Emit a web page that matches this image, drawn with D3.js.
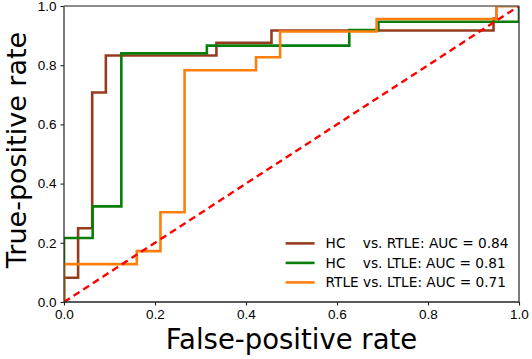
<!DOCTYPE html>
<html lang="en">
<head>
  <meta charset="UTF-8">
  <title>ROC curves</title>
  <script src="https://d3js.org/d3.v7.min.js"></script>
  <style>
    body { margin: 0; background: #fff; }
    svg { display: block; font-family: "DejaVu Sans", sans-serif; }
    .tick text { font-size: 13.5px; fill: #000; }
    .legend text { font-size: 13.7px; fill: #000; white-space: pre; }
    .axis-label { font-size: 27.5px; fill: #000; text-anchor: middle; }
    .y-label { font-size: 27px; }
  </style>
</head>
<body>
  <div id="chart"></div>

  <script>
    // ROC points (false-positive rate, true-positive rate)
    const seriesNames = ["HC    vs. RTLE: AUC = 0.84", "HC    vs. LTLE: AUC = 0.81", "RTLE vs. LTLE: AUC = 0.71"];
    const seriesColors = ["#963c1e", "#0b7d0b", "#ff7f0e"];

    const fprHcRtle = [0, 0, 0.031, 0.031, 0.062, 0.062, 0.092, 0.092, 0.335, 0.335, 0.456, 0.456, 0.944, 0.944, 0.951, 0.951, 1];
    const tprHcRtle = [0, 0.082, 0.082, 0.249, 0.249, 0.708, 0.708, 0.833, 0.833, 0.876, 0.876, 0.917, 0.917, 0.958, 0.958, 1, 1];

    const fprHcLtle = [0, 0, 0.063, 0.063, 0.126, 0.126, 0.314, 0.314, 0.627, 0.627, 0.691, 0.691, 1, 1];
    const tprHcLtle = [0, 0.216, 0.216, 0.323, 0.323, 0.840, 0.840, 0.866, 0.866, 0.919, 0.919, 0.947, 0.947, 1];

    const fprRtleLtle = [0, 0, 0.160, 0.160, 0.212, 0.212, 0.265, 0.265, 0.422, 0.422, 0.475, 0.475, 0.687, 0.687, 0.951, 0.951, 1];
    const tprRtleLtle = [0, 0.128, 0.128, 0.172, 0.172, 0.303, 0.303, 0.783, 0.783, 0.827, 0.827, 0.914, 0.914, 0.956, 0.956, 1, 1];

    const chanceLine = [0, 1];
    const ticks = [0, 0.2, 0.4, 0.6, 0.8, 1.0];

    const margin = { top: 6, right: 13, bottom: 57, left: 64 },
          width = 532 - margin.left - margin.right,
          height = 359 - margin.top - margin.bottom;

    const svg = d3.select("#chart")
                  .append("svg")
                  .attr("width", 532)
                  .attr("height", 359);

    const g = svg.append("g")
                 .attr("transform", `translate(${margin.left},${margin.top})`);

    const x = d3.scaleLinear().domain([0, 1]).range([0, width]);
    const y = d3.scaleLinear().domain([0, 1]).range([height, 0]);

    // clip curves to the axes box
    svg.append("defs").append("clipPath").attr("id", "plot-clip")
       .append("rect").attr("x", 0).attr("y", 0).attr("width", width).attr("height", height);

    const curves = [
      d3.zip(fprHcRtle, tprHcRtle),
      d3.zip(fprHcLtle, tprHcLtle),
      d3.zip(fprRtleLtle, tprRtleLtle)
    ];

    const line = d3.line().x(d => x(d[0])).y(d => y(d[1]));

    const plot = g.append("g").attr("clip-path", "url(#plot-clip)");

    curves.forEach((pts, i) => {
      plot.append("path")
          .attr("d", line(pts))
          .attr("fill", "none")
          .attr("stroke", seriesColors[i])
          .attr("stroke-width", 2.6)
          .attr("stroke-linejoin", "miter");
    });

    // chance diagonal
    plot.append("path")
        .attr("d", line(d3.zip(chanceLine, chanceLine)))
        .attr("fill", "none")
        .attr("stroke", "#ff0000")
        .attr("stroke-width", 2.4)
        .attr("stroke-dasharray", "7,4.5");

    // axes
    const xAxis = g.append("g")
       .attr("transform", `translate(0,${height})`)
       .call(d3.axisBottom(x).tickValues(ticks).tickFormat(d3.format(".1f")).tickSize(3.5).tickPadding(4));

    const yAxis = g.append("g")
       .call(d3.axisLeft(y).tickValues(ticks).tickFormat(d3.format(".1f")).tickSize(3.5).tickPadding(4));

    [xAxis, yAxis].forEach(a => {
      a.select(".domain").remove();
      a.selectAll(".tick line").attr("stroke", "#222").attr("stroke-width", 1.1);
    });

    // frame
    g.append("line").attr("x1", 0).attr("x2", width).attr("y1", height).attr("y2", height)
     .attr("stroke", "#222").attr("stroke-width", 1.3);
    g.append("line").attr("x1", 0).attr("x2", 0).attr("y1", 0).attr("y2", height)
     .attr("stroke", "#333").attr("stroke-width", 1.3);
    g.append("line").attr("x1", 0).attr("x2", width).attr("y1", 0).attr("y2", 0)
     .attr("stroke", "#666").attr("stroke-width", 1.3);
    g.append("line").attr("x1", width).attr("x2", width).attr("y1", 0).attr("y2", height)
     .attr("stroke", "#333").attr("stroke-width", 1.3);

    // axis labels
    g.append("text")
     .attr("class", "axis-label")
     .attr("x", width / 2)
     .attr("y", height + 47)
     .text("False-positive rate");

    g.append("text")
     .attr("class", "axis-label y-label")
     .attr("transform", `translate(${26 - margin.left},${height / 2 - 4}) rotate(-90)`)
     .text("True-positive rate");

    // legend
    const legend = g.append("g").attr("class", "legend")
                    .attr("transform", `translate(${x(0.487)},${y(0.198)})`);

    seriesNames.forEach((name, i) => {
      const row = legend.append("g").attr("transform", `translate(0,${i * 19.5})`);
      row.append("line")
         .attr("x1", 0).attr("x2", 29)
         .attr("stroke", seriesColors[i]).attr("stroke-width", 2.6);
      row.append("text")
         .attr("x", 40)
         .attr("dy", "0.36em")
         .attr("xml:space", "preserve")
         .text(name);
    });
  </script>
</body>
</html>
